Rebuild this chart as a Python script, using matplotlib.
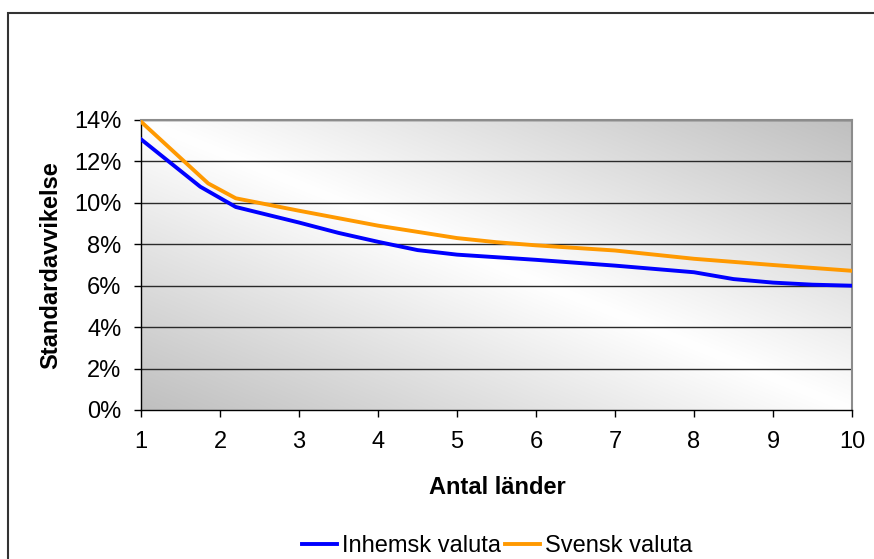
import numpy as np
import matplotlib.pyplot as plt
from matplotlib.patches import Rectangle
from matplotlib.ticker import FuncFormatter

plt.rcParams['font.family'] = ['Liberation Sans', 'DejaVu Sans']

# -----------------------------
# data
# -----------------------------
x_inhemsk = [1.0, 1.75, 2.2, 3.0, 3.5, 4.0, 4.5, 5.0, 6.0, 7.0, 8.0, 8.5, 9.0, 9.5, 10.0]
y_inhemsk = [0.1307, 0.1078, 0.0980, 0.0905, 0.0855, 0.0812, 0.0772, 0.0750,
             0.0725, 0.0697, 0.0665, 0.0632, 0.0615, 0.0605, 0.0600]

x_svensk = [1.0, 1.85, 2.2, 3.0, 4.0, 5.0, 5.5, 6.0, 7.0, 8.0, 9.0, 10.0]
y_svensk = [0.1392, 0.1094, 0.1022, 0.0962, 0.0890, 0.0830, 0.0810, 0.0795,
            0.0770, 0.0730, 0.0700, 0.0672]

x_ticks = list(range(1, 11))
y_ticks = [0.0, 0.02, 0.04, 0.06, 0.08, 0.10, 0.12, 0.14]

W, H = 874, 559
FS = 17
fig = plt.figure(figsize=(W / 100, H / 100), dpi=100)
ax = fig.add_axes([141 / W, 1 - 410 / H, (852 - 141) / W, (410 - 120) / H])

# diagonal gradient: grey bottom-left / top-right, white through the middle
gx, gy = np.meshgrid(np.linspace(0, 1, 300), np.linspace(0, 1, 200))
u = (gx + gy) / 2
shade = 1 - 0.25 * np.abs(2 * u - 1)
ax.imshow(np.dstack([shade, shade, shade]), extent=[0, 1, 0, 1], origin='lower',
          transform=ax.transAxes, aspect='auto', zorder=0, interpolation='bilinear')

for yv in y_ticks[1:]:
    ax.axhline(yv, color='#2a2a2a', lw=1.0, zorder=1)

ax.plot(x_inhemsk, y_inhemsk, color='#0000ff', lw=2.8, label='Inhemsk valuta', zorder=3,
        solid_joinstyle='round')
ax.plot(x_svensk, y_svensk, color='#ff9900', lw=2.8, label='Svensk valuta', zorder=3,
        solid_joinstyle='round')

ax.set_xlim(1, 10)
ax.set_ylim(0, 0.14)
ax.set_xticks(x_ticks)
ax.set_yticks(y_ticks)
ax.yaxis.set_major_formatter(FuncFormatter(lambda v, _: f"{v * 100:.0f}%"))
ax.tick_params(axis='both', direction='out', length=5, width=1, labelsize=FS, color='black')
ax.tick_params(axis='y', pad=9)
ax.tick_params(axis='x', pad=10)

for side in ('top', 'right'):
    ax.spines[side].set_color('#8c8c8c')
    ax.spines[side].set_linewidth(1.5)
for side in ('left', 'bottom'):
    ax.spines[side].set_color('black')
    ax.spines[side].set_linewidth(1.0)

fig.text(51 / W, 1 - 265 / H, 'Standardavvikelse', rotation=90, ha='center', va='center',
         fontsize=FS, fontweight='bold')
fig.text(497 / W, 1 - 487 / H, 'Antal länder', ha='center', va='center',
         fontsize=FS, fontweight='bold')

fig.legend(loc='center', bbox_to_anchor=(497 / W, 1 - 546 / H), ncol=2, frameon=False,
           fontsize=FS, handlelength=1.5, handletextpad=0.2, columnspacing=0.17)

fig.patches.append(Rectangle((7.5 / W, -0.1), 2, 1 - 13.5 / H + 0.1, transform=fig.transFigure,
                             fill=False, edgecolor='#333333', lw=1.5))

fig.savefig('out.png', dpi=100)
